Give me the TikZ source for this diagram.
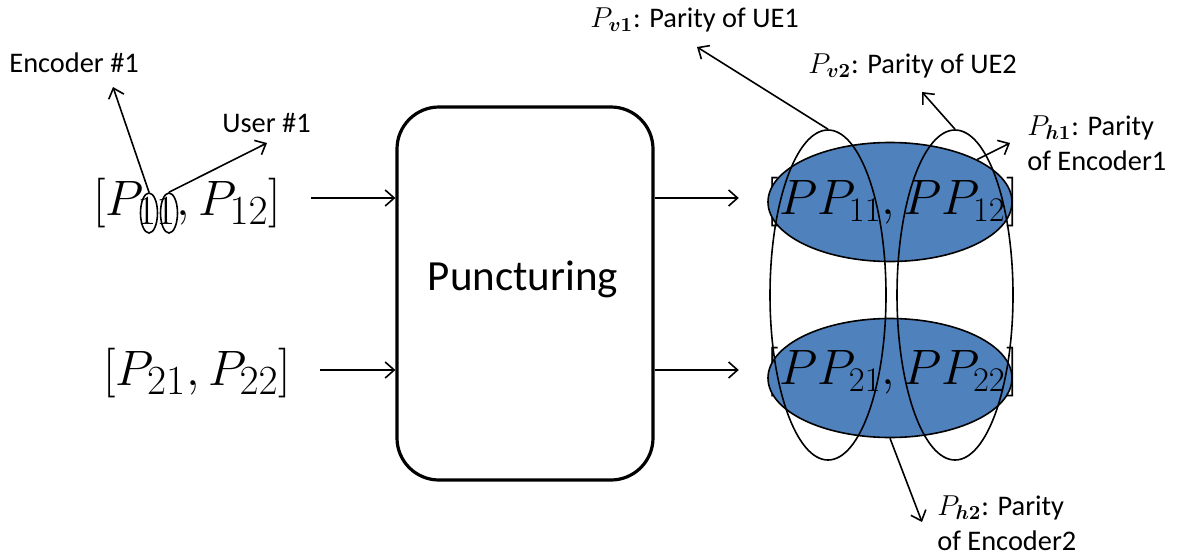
\documentclass[tikz,border=0pt]{standalone}
\usepackage{fontspec}
\setmainfont{Carlito}
\usepackage{amsmath}
\usetikzlibrary{arrows.meta,shapes.geometric}
\definecolor{setblue}{HTML}{4F81BD}
\DeclareMathSizes{25.5}{25.5}{20}{16}

\pgfdeclarelayer{back}
\pgfsetlayers{back,main}

\tikzset{
  conn/.style={line width=0.8pt,-{Straight Barb[length=4.5pt,width=8pt,line width=0.8pt]}},
  lbl/.style={font=\fontsize{14.2}{17.5}\selectfont, inner sep=0pt, anchor=base west, align=left},
  mathrow/.style={font=\fontsize{25.5}{30}\selectfont, inner sep=0pt, anchor=base west},
  outrow/.style={font=\fontsize{25}{30}\selectfont, inner sep=0pt, anchor=base west},
  blueset/.style={ellipse, draw=black, line width=0.8pt, fill=setblue, inner sep=0pt,
                  minimum width=122pt, minimum height=59.5pt},
  colset/.style={ellipse, draw=black, line width=0.8pt, inner sep=0pt,
                 minimum width=58pt, minimum height=165pt},
  subring/.style={ellipse, draw=black, line width=0.8pt, inner sep=0pt,
                  minimum width=8.5pt, minimum height=20pt},
  procbox/.style={draw, line width=1.6pt, rounded corners=21pt,
                  minimum width=128pt, minimum height=186.5pt, inner sep=0pt},
}

\begin{document}
\begin{tikzpicture}[x=0.5pt,y=-0.5pt]
\useasboundingbox (0,0) rectangle (1193,557);

% row heights of the two data streams
\coordinate (r1) at (0,198);
\coordinate (r2) at (0,370);

% input parity vectors
\node[mathrow] (in1) at (93,215) {$[P_{11}, P_{12}]$};
\node[mathrow] (in2) at (103,385) {$[P_{21}, P_{22}]$};

% rings marking the two subscript indices
\node[subring] (s1) at (149,213) {};
\node[subring] (s2) at (169,213) {};

\node[lbl] (enc) at (9,72) {Encoder \#1};
\node[lbl] (usr) at (222,132) {User \#1};
\coordinate (encTip) at (113,87);
\coordinate (usrTip) at (267,143);
\draw[conn] (s1.north) -- (encTip);
\draw[conn] (s2.north) -- (usrTip);

% puncturing block
\node[procbox] (punct) at (525,293.5) {};
\node[font=\fontsize{21.5}{26}\selectfont, inner sep=0pt, anchor=base] (ptext) at (523,290) {Puncturing};

% output vectors: entries on top, brackets and sets underneath
\node[outrow] (out1) at (779,214) {$PP_{11}, PP_{12}$};
\node[outrow] (out2) at (779,384) {$PP_{21}, PP_{22}$};

\begin{pgfonlayer}{back}
  \node[outrow, anchor=base east] (lb1) at (out1.base west) {$[$};
  \node[outrow] (rb1) at (out1.base east) {$]$};
  \node[outrow, anchor=base east] (lb2) at (out2.base west) {$[$};
  \node[outrow] (rb2) at (out2.base east) {$]$};
  \node[blueset] (h1) at (890,202) {};
  \node[blueset] (h2) at (890,378) {};
\end{pgfonlayer}

\node[colset] (v1) at (828,295) {};
\node[colset] (v2) at (955,295) {};

% stream arrows
\draw[conn] (in1.east |- r1) ++(30,0) -- (punct.west |- r1);
\draw[conn] (in2.east |- r2) ++(29,0) -- (punct.west |- r2);
\draw[conn,shorten >=13.5pt] (punct.east |- r1) -- (lb1.west |- r1);
\draw[conn,shorten >=13.5pt] (punct.east |- r2) -- (lb2.west |- r2);

% parity labels
\node[lbl] (lv1) at (590,27) {$P_{\boldsymbol{v1}}$: Parity of UE1};
\node[lbl] (lv2) at (808,73) {$P_{\boldsymbol{v2}}$: Parity of UE2};
\node[lbl] (lh1) at (1027,170) {$P_{\boldsymbol{h1}}$: Parity\\of Encoder1};
\node[lbl] (lh2) at (937,550) {$P_{\boldsymbol{h2}}$: Parity\\of Encoder2};

\coordinate (tv1) at (697,47);
\coordinate (tv2) at (922,92);
\coordinate (th1) at (1010,143);
\coordinate (th2) at (922,522);
\draw[conn] (v1.north) -- (tv1);
\draw[conn] (v2.north) -- (tv2);
\draw[conn] (h1.26) -- (th1);
\draw[conn] (h2.south) -- (th2);
\end{tikzpicture}
\end{document}
